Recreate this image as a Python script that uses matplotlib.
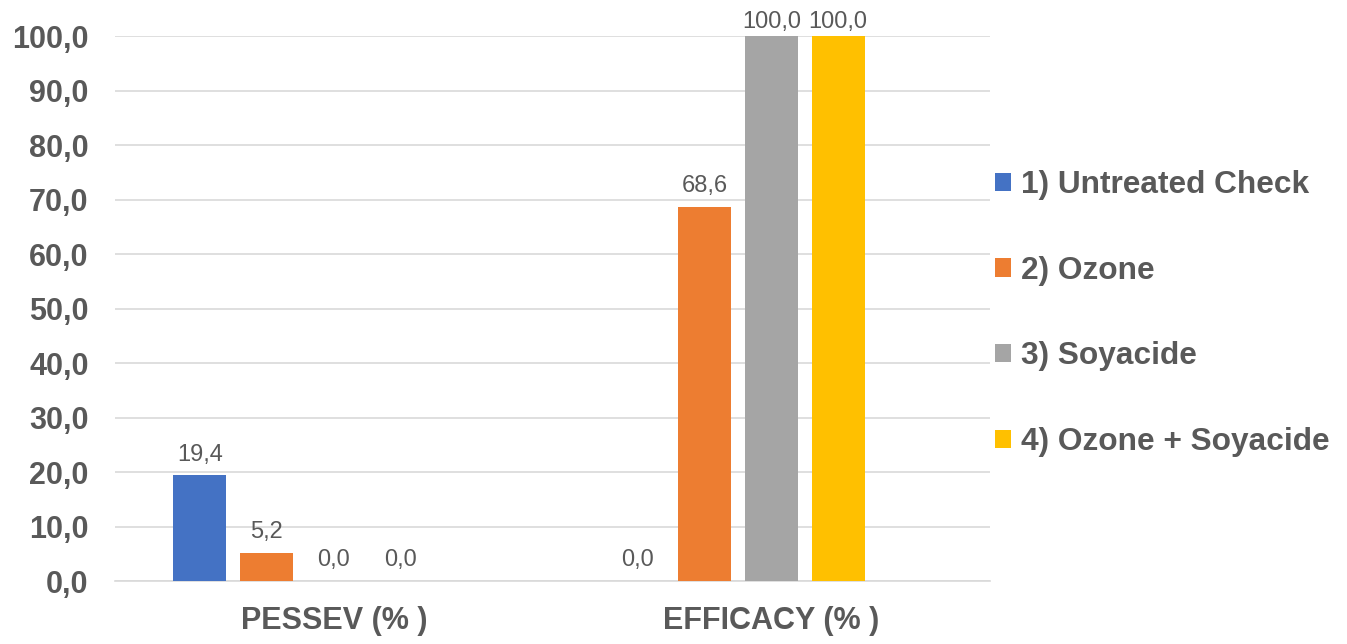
import matplotlib.pyplot as plt
import numpy as np

plt.rcParams['font.family'] = ['Liberation Sans', 'DejaVu Sans']

categories = ['PESSEV (% )', 'EFFICACY (% )']
series = ['1) Untreated Check', '2) Ozone', '3) Soyacide', '4) Ozone + Soyacide']
untreated = [19.4, 0.0]
ozone = [5.2, 68.6]
soyacide = [0.0, 100.0]
ozone_soy = [0.0, 100.0]
colors = ['#4472C4', '#ED7D31', '#A5A5A5', '#FFC000']

txt = '#595959'
fig = plt.figure(figsize=(13.47, 6.44), dpi=100)
ax = fig.add_axes([0.0854, 0.0978, 0.6496, 0.8462])

x = np.arange(len(categories))
w = 0.121
step = 0.153
for i, (vals, lab) in enumerate(zip([untreated, ozone, soyacide, ozone_soy], series)):
    xs = x + (i - 2) * step
    ax.bar(xs, vals, w, color=colors[i], label=lab, zorder=3)
    for xi, v in zip(xs, vals):
        # labels at the top of the range sit a bit lower, as in the source
        off = 2 if v >= 100 else 7
        ax.annotate(('%.1f' % v).replace('.', ','), (xi, v), xytext=(0, off),
                    textcoords='offset points', ha='center', va='bottom',
                    fontsize=17, color=txt)

ax.set_xlim(-0.5, 1.5)
ax.set_ylim(0, 100)
ax.set_yticks(np.arange(0, 101, 10))
ax.set_yticklabels([('%.1f' % t).replace('.', ',') for t in np.arange(0, 101, 10)],
                   fontsize=22, fontweight='bold', color=txt)
ax.set_xticks(x)
ax.set_xticklabels(categories, fontsize=22, fontweight='bold', color=txt)
ax.tick_params(axis='y', length=0, pad=19)
ax.tick_params(axis='x', length=0, pad=18)
ax.grid(axis='y', color='#d9d9d9', lw=1.2, zorder=0)
for s in ['top', 'right', 'left']:
    ax.spines[s].set_visible(False)
ax.spines['bottom'].set_color('#d9d9d9')
ax.spines['bottom'].set_linewidth(1.2)

leg = fig.legend(loc='center left', bbox_to_anchor=(0.739, 0.513), frameon=False,
                 fontsize=22.8, handlelength=0.5, handleheight=0.5, handletextpad=0.3,
                 labelspacing=1.76, borderpad=0, borderaxespad=0)
for t in leg.get_texts():
    t.set_color(txt)
    t.set_fontweight('bold')

plt.savefig('out.png', dpi=100)
